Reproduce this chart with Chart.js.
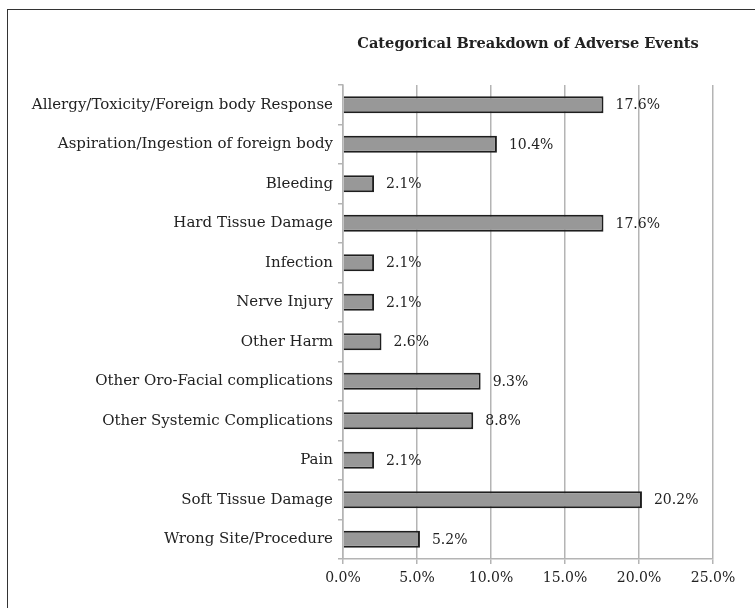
<!DOCTYPE html>
<html>
<head>
<meta charset="utf-8">
<script src="https://cdn.jsdelivr.net/npm/chart.js@4"></script>
<style>
    body { margin: 0; background: #fff; }
    #wrap { position: relative; width: 755px; height: 608px; overflow: hidden; }
    #frame { position: absolute; left: 7px; top: 9px; width: 900px; height: 800px; border-left: 1.5px solid #333; border-top: 1.5px solid #333; }
    canvas { position: absolute; left: 0; top: 0; }
</style>
</head>
<body>
<div id="wrap">
    <div id="frame"></div>
    <canvas id="chart" width="755" height="608"></canvas>
</div>
<script>
// data
const categories = [
    'Allergy/Toxicity/Foreign body Response',
    'Aspiration/Ingestion of foreign body',
    'Bleeding',
    'Hard Tissue Damage',
    'Infection',
    'Nerve Injury',
    'Other Harm',
    'Other Oro-Facial complications',
    'Other Systemic Complications',
    'Pain',
    'Soft Tissue Damage',
    'Wrong Site/Procedure'
];
const percentages = [17.6, 10.4, 2.1, 17.6, 2.1, 2.1, 2.6, 9.3, 8.8, 2.1, 20.2, 5.2];
const chartTitle = 'Categorical Breakdown of Adverse Events';

const serif = "'DejaVu Serif', serif";

// title centred over the plot area + value labels at bar ends
const extras = {
    id: 'extras',
    afterDatasetsDraw(chart) {
        const ctx = chart.ctx;
        const area = chart.chartArea;
        ctx.save();
        ctx.fillStyle = '#222';
        ctx.font = 'bold 14.6px ' + serif;
        ctx.textAlign = 'center';
        ctx.textBaseline = 'middle';
        ctx.fillText(chartTitle, (area.left + area.right) / 2, 44);

        ctx.font = '14px ' + serif;
        ctx.textAlign = 'left';
        chart.getDatasetMeta(0).data.forEach((bar, i) => {
            ctx.fillText(percentages[i].toFixed(1) + '%', bar.x + 12, bar.y + 1);
        });
        ctx.restore();
    }
};

new Chart(document.getElementById('chart'), {
    type: 'bar',
    data: {
        labels: categories,
        datasets: [{
            data: percentages,
            backgroundColor: '#989898',
            borderColor: '#1e1e1e',
            borderWidth: 2,
            barPercentage: 0.86,
            categoryPercentage: 0.5
        }]
    },
    options: {
        indexAxis: 'y',
        responsive: false,
        animation: false,
        layout: { padding: { top: 85, right: 42, left: 0, bottom: 0 } },
        plugins: {
            legend: { display: false },
            tooltip: { enabled: false }
        },
        scales: {
            x: {
                min: 0,
                max: 25,
                ticks: {
                    stepSize: 5,
                    color: '#222',
                    font: { family: serif, size: 14 },
                    padding: 6,
                    callback: v => v.toFixed(1) + '%'
                },
                grid: { color: '#b4b4b4', lineWidth: 1.5, tickLength: 5 },
                border: { color: '#b4b4b4', width: 1.5 },
                afterFit(scale) { scale.height = 49; }
            },
            y: {
                ticks: {
                    color: '#222',
                    font: { family: serif, size: 15 },
                    padding: 5
                },
                grid: { drawOnChartArea: false, offset: true, color: '#b4b4b4', lineWidth: 1.5, tickLength: 5 },
                border: { color: '#b4b4b4', width: 1.5 },
                afterFit(scale) { scale.width = 343; }
            }
        }
    },
    plugins: [extras]
});
</script>
</body>
</html>
